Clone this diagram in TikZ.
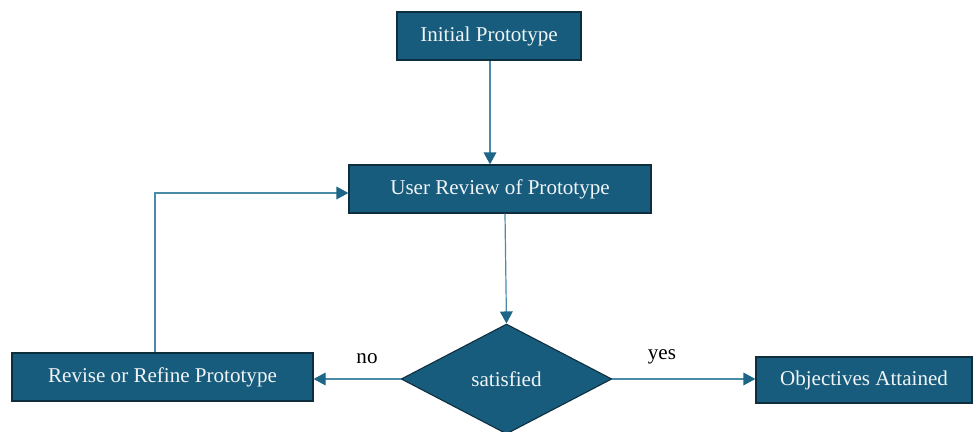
\documentclass[tikz,border=0pt]{standalone}
\usepackage{fontspec}
\setmainfont{Liberation Serif}
\usetikzlibrary{shapes.geometric,arrows.meta}
\definecolor{boxfill}{HTML}{175C7C}
\definecolor{boxline}{HTML}{0E2E3E}
\definecolor{linkcol}{HTML}{4A8BAA}
\definecolor{tipcol}{HTML}{1D6688}
\definecolor{boxtext}{HTML}{F0F4F6}
\tikzset{
  procbox/.style={rectangle, draw=boxline, line width=0.9pt, fill=boxfill,
    text=boxtext, font=\fontsize{15.8}{18}\selectfont, inner sep=0pt, anchor=center},
  decbox/.style={diamond, draw=boxline, line width=0.8pt, fill=boxfill,
    text=boxtext, font=\fontsize{15.8}{18}\selectfont, inner sep=0pt,
    minimum width=158pt, minimum height=82.5pt, aspect=1.92},
  link/.style={draw=linkcol, line width=0.9pt,
    -{Triangle[length=9pt,width=9.5pt,fill=tipcol,color=tipcol]}},
  lbl/.style={font=\fontsize{15.8}{18}\selectfont, text=black}
}
\begin{document}
\begin{tikzpicture}[x=0.75pt,y=-0.75pt]
\useasboundingbox (0,0) rectangle (976,432);
\fill[white] (0,0) rectangle (976,432);
% process boxes
\node[procbox, minimum width=138pt, minimum height=36pt] (init) at (489,36) {Initial Prototype};
\node[procbox, minimum width=226.5pt, minimum height=36pt] (review) at (500,189) {User Review of Prototype};
\node[procbox, minimum width=225.75pt, minimum height=36pt] (revise) at (162.5,377) {Revise or Refine Prototype};
\node[procbox, minimum width=162pt, minimum height=34.5pt] (goal) at (864,380) {Objectives Attained};
% decision
\node[decbox] (sat) at (506.5,379) {satisfied};
% connectors
\draw[link] (init.south -| 490,0) -- (review.north -| 490,0);
\draw[link] (review.south -| 505,0) -- (sat.north);
\draw[link] (sat.west) -- (revise.east |- sat.west);
\draw[link] (sat.east) -- (goal.west |- sat.east);
\draw[link] (revise.north -| 155,0) |- (review.west |- 0,193);
% branch labels
\node[lbl] (no) at (367,359) {no};
\node[lbl] (yes) at (662,357) {yes};
\end{tikzpicture}
\end{document}
